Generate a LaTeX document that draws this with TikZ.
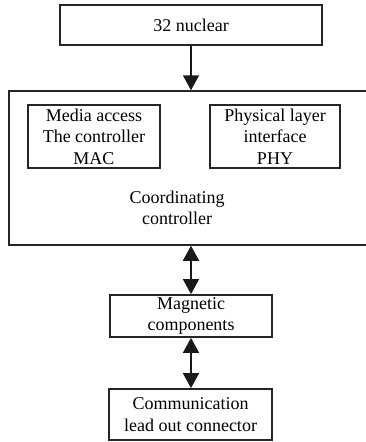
\documentclass[tikz,border=0pt]{standalone}
\usepackage{fontspec}
\setmainfont{Liberation Serif}
\usetikzlibrary{arrows.meta}
\begin{document}
\begin{tikzpicture}[x=1pt,y=-1pt,
  font=\fontsize{18}{21.5}\selectfont,
  blk/.style={draw=black!85, line width=1.8pt, align=center, inner sep=0pt},
  outer/.style={draw=black!85, line width=1.5pt, inner sep=0pt},
  link/.style={line width=1.8pt, black!90,
    -{Triangle[width=16pt,length=15pt]}},
  biway/.style={line width=1.8pt, black!90,
    {Triangle[width=16pt,length=15pt]}-{Triangle[width=16pt,length=15pt]}}]
  \useasboundingbox (0,0) rectangle (365,442);

  % processor core
  \node[blk, minimum width=262pt, minimum height=40pt] (core) at (191,25) {32 nuclear};

  % coordinating controller, open on the right
  \node[outer, minimum width=364pt, minimum height=154pt] (ctrl) at (191,168) {};
  \node[blk, minimum width=132pt, minimum height=63pt] (mac) at (94,136.5)
    {Media access\\The controller\\MAC};
  \node[blk, minimum width=130pt, minimum height=63pt] (phy) at (275,136.5)
    {Physical layer\\interface\\PHY};
  \node[align=center, inner sep=0pt] (ctrllabel) at (177,208) {Coordinating\\controller};

  % magnetics and connector
  \node[blk, minimum width=162pt, minimum height=42pt] (mag) at (191,316)
    {Magnetic\\components};
  \node[blk, minimum width=163pt, minimum height=51pt] (conn) at (190.5,414.5)
    {Communication\\lead out connector};

  % connectors
  \draw[link] (core.south) -- (ctrl.north);
  \draw[biway] (ctrl.south) -- (mag.north);
  \draw[biway] (mag.south) -- (mag.south |- conn.north);
\end{tikzpicture}
\end{document}
